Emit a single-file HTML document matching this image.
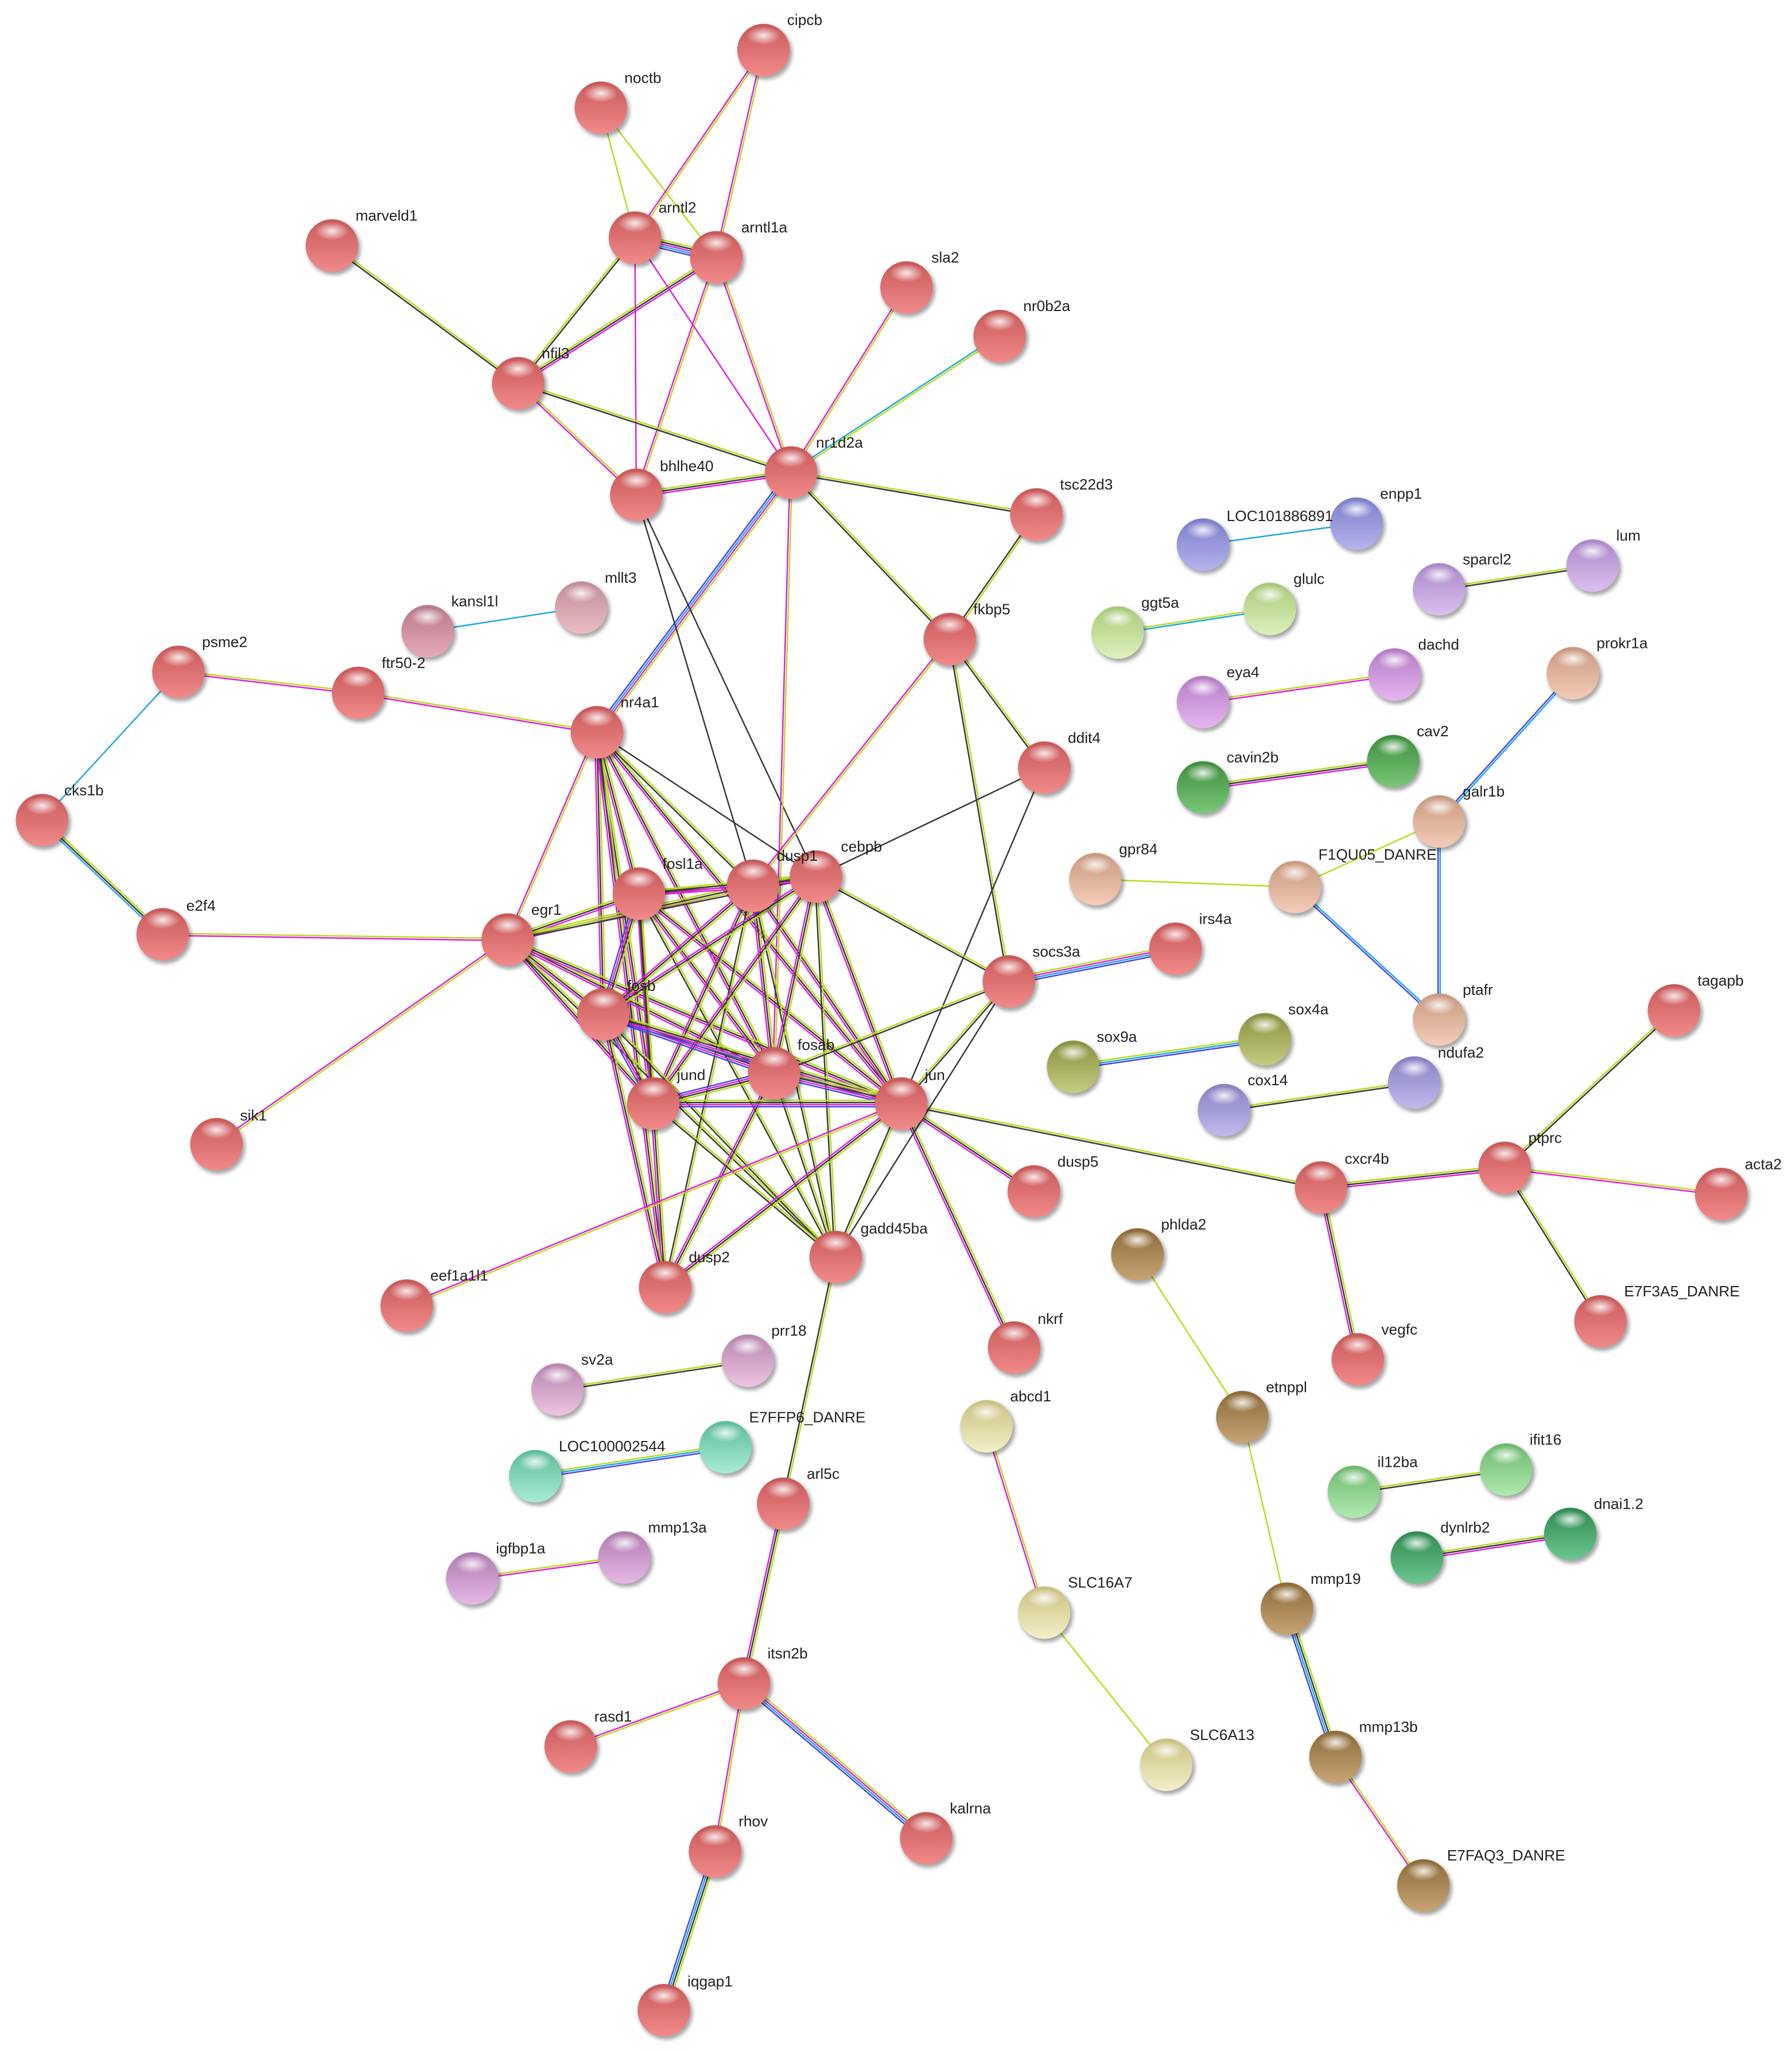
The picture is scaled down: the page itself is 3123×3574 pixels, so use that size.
<!DOCTYPE html>
<html><head><meta charset="utf-8"><style>
html,body{margin:0;padding:0;background:#fff}
svg{display:block}
text{font-family:"Liberation Sans",sans-serif;font-size:11.5px;fill:#222}
</style></head><body>
<svg id="s" width="3123" height="3574" viewBox="0 0 1366 1563" xmlns="http://www.w3.org/2000/svg">
<defs id="defs">
<radialGradient id="hl" cx="50%" cy="50%" r="50%"><stop offset="0" stop-color="#fff" stop-opacity="0.85"/><stop offset="1" stop-color="#fff" stop-opacity="0"/></radialGradient>
<filter id="sh" x="-30%" y="-30%" width="160%" height="160%"><feGaussianBlur stdDeviation="1.5"/></filter>
</defs>
<g id="edges"></g>
<g id="nodes"></g>
<g id="labels">
<text x="600" y="19">cipcb</text>
<text x="476" y="63">noctb</text>
<text x="502" y="162">arntl2</text>
<text x="565" y="177">arntl1a</text>
<text x="271" y="168">marveld1</text>
<text x="710" y="200">sla2</text>
<text x="780" y="237">nr0b2a</text>
<text x="413" y="273">nfil3</text>
<text x="622" y="341">nr1d2a</text>
<text x="503" y="359">bhlhe40</text>
<text x="808" y="373">tsc22d3</text>
<text x="742" y="468">fkbp5</text>
<text x="344" y="462">kansl1l</text>
<text x="461" y="444">mllt3</text>
<text x="154" y="493">psme2</text>
<text x="291" y="509">ftr50-2</text>
<text x="473" y="539">nr4a1</text>
<text x="814" y="566">ddit4</text>
<text x="49" y="606">cks1b</text>
<text x="592" y="656">dusp1</text>
<text x="641" y="649">cebpb</text>
<text x="505" y="662">fosl1a</text>
<text x="405" y="697">egr1</text>
<text x="142" y="694">e2f4</text>
<text x="787" y="729">socs3a</text>
<text x="914" y="704">irs4a</text>
<text x="478" y="755">fosb</text>
<text x="608" y="800">fosab</text>
<text x="516" y="823">jund</text>
<text x="705" y="823">jun</text>
<text x="183" y="854">sik1</text>
<text x="806" y="889">dusp5</text>
<text x="656" y="940">gadd45ba</text>
<text x="525" y="962">dusp2</text>
<text x="328" y="976">eef1a1l1</text>
<text x="791" y="1009">nkrf</text>
<text x="1025" y="887">cxcr4b</text>
<text x="1165" y="871">ptprc</text>
<text x="1330" y="891">acta2</text>
<text x="1294" y="751">tagapb</text>
<text x="1238" y="988">E7F3A5_DANRE</text>
<text x="1053" y="1017">vegfc</text>
<text x="615" y="1127">arl5c</text>
<text x="585" y="1264">itsn2b</text>
<text x="453" y="1312">rasd1</text>
<text x="724" y="1382">kalrna</text>
<text x="563" y="1392">rhov</text>
<text x="524" y="1514">iqgap1</text>
<text x="935" y="397">LOC101886891</text>
<text x="1052" y="380">enpp1</text>
<text x="1115" y="430">sparcl2</text>
<text x="1232" y="412">lum</text>
<text x="870" y="463">ggt5a</text>
<text x="986" y="445">glulc</text>
<text x="935" y="516">eya4</text>
<text x="1081" y="495">dachd</text>
<text x="1217" y="494">prokr1a</text>
<text x="935" y="581">cavin2b</text>
<text x="1080" y="561">cav2</text>
<text x="1115" y="607">galr1b</text>
<text x="853" y="651">gpr84</text>
<text x="1005" y="655">F1QU05_DANRE</text>
<text x="1115" y="758">ptafr</text>
<text x="836" y="794">sox9a</text>
<text x="982" y="773">sox4a</text>
<text x="951" y="827">cox14</text>
<text x="1096" y="806">ndufa2</text>
<text x="885" y="937">phlda2</text>
<text x="965" y="1061">etnppl</text>
<text x="999" y="1207">mmp19</text>
<text x="1036" y="1320">mmp13b</text>
<text x="1103" y="1418">E7FAQ3_DANRE</text>
<text x="1050" y="1118">il12ba</text>
<text x="1166" y="1101">ifit16</text>
<text x="1098" y="1168">dynlrb2</text>
<text x="1215" y="1150">dnai1.2</text>
<text x="770" y="1068">abcd1</text>
<text x="814" y="1210">SLC16A7</text>
<text x="907" y="1326">SLC6A13</text>
<text x="443" y="1040">sv2a</text>
<text x="588" y="1018">prr18</text>
<text x="426" y="1106">LOC100002544</text>
<text x="571" y="1084">E7FFP6_DANRE</text>
<text x="378" y="1184">igfbp1a</text>
<text x="494" y="1168">mmp13a</text>
</g>
</svg>
<script>
var N={cipcb:[582,38,'r'],noctb:[458,82,'r'],arntl2:[484,181,'r'],arntl1a:[546,196,'r'],marveld1:[253,187,'r'],sla2:[691,219,'r'],nr0b2a:[762,256,'r'],nfil3:[395,292,'r'],nr1d2a:[603,360,'r'],bhlhe40:[485,377,'r'],tsc22d3:[790,392,'r'],fkbp5:[724,487,'r'],kansl1l:[326,481,'mv'],mllt3:[443,463,'mv2'],psme2:[136,512,'r'],ftr502:[273,528,'r'],nr4a1:[455,558,'r'],ddit4:[796,585,'r'],cks1b:[32,625,'r'],dusp1:[574,675,'r'],cebpb:[622,668,'r'],fosl1a:[487,681,'r'],egr1:[387,716,'r'],e2f4:[124,712,'r'],socs3a:[769,748,'r'],irs4a:[896,723,'r'],fosb:[460,773,'r'],fosab:[590,818,'r'],jund:[498,841,'r'],jun:[687,841,'r'],sik1:[165,872,'r'],dusp5:[788,908,'r'],gadd45ba:[637,958,'r'],dusp2:[507,981,'r'],eef1a1l1:[310,995,'r'],nkrf:[773,1027,'r'],cxcr4b:[1007,905,'r'],ptprc:[1147,890,'r'],acta2:[1312,910,'r'],tagapb:[1276,770,'r'],E7F3A5:[1220,1007,'r'],vegfc:[1035,1036,'r'],arl5c:[597,1146,'r'],itsn2b:[567,1283,'r'],rasd1:[435,1331,'r'],kalrna:[706,1401,'r'],rhov:[545,1411,'r'],iqgap1:[506,1532,'r'],
LOC1:[917,415,'bl'],enpp1:[1034,399,'bl'],sparcl2:[1097,449,'lv'],lum:[1214,431,'lv'],ggt5a:[852,482,'lg'],glulc:[968,464,'lg'],eya4:[917,535,'or'],dachd:[1063,514,'or'],prokr1a:[1199,513,'pe'],cavin2b:[917,600,'gr'],cav2:[1062,580,'gr'],galr1b:[1097,626,'pe'],gpr84:[835,670,'pe'],F1QU05:[987,676,'pe'],ptafr:[1097,777,'pe'],sox9a:[818,813,'ol'],sox4a:[964,792,'ol'],cox14:[933,846,'pu'],ndufa2:[1078,825,'pu'],phlda2:[867,956,'br'],etnppl:[947,1080,'br'],mmp19:[981,1226,'br'],mmp13b:[1018,1339,'br'],E7FAQ3:[1085,1437,'br'],il12ba:[1032,1137,'lgn'],ifit16:[1148,1120,'lgn'],dynlrb2:[1080,1187,'dg'],dnai12:[1197,1169,'dg'],abcd1:[752,1087,'cr'],SLC16A7:[796,1229,'cr'],SLC6A13:[889,1345,'cr'],sv2a:[425,1059,'pk'],prr18:[570,1037,'pk'],LOC2:[408,1125,'tl'],E7FFP6:[553,1103,'tl'],igfbp1a:[360,1203,'vi'],mmp13a:[476,1187,'vi']};
var C={r:['#c85858','#f28a8a'],mv:['#b87888','#e6aab8'],mv2:['#c08c98','#ecbcc4'],bl:['#7c7cc8','#b4b4ee'],lv:['#a886c8','#dcc0f0'],lg:['#a8c878','#dcf2bc'],or:['#b47ac4','#e6b6f0'],pe:['#c8987e','#f4ccb8'],gr:['#3e8c3e','#78c878'],ol:['#88903e','#c4cc80'],pu:['#8680c0','#c0baee'],br:['#8c6a38','#c8a474'],lgn:['#6cb86c','#b0eab0'],dg:['#2e8850','#6cc890'],cr:['#c8c080','#f4f0c8'],pk:['#b884ac','#ecc4e0'],tl:['#5cbc98','#a8ecd4'],vi:['#b07ab0','#e6b8e6']};
var L={y:'#b8dc1c',k:'#3a3a3a',m:'#e020e0',c:'#20a8e0',b:'#4848e8'};
var E="noctb arntl2 y;noctb arntl1a y;cipcb arntl2 ym;cipcb arntl1a ym;arntl2 arntl1a ykmcb;marveld1 nfil3 yk;nfil3 arntl2 yk;nfil3 arntl1a ykm;arntl2 bhlhe40 m;arntl1a bhlhe40 ym;arntl2 nr1d2a m;arntl1a nr1d2a ym;nfil3 nr1d2a yk;nfil3 bhlhe40 ym;bhlhe40 nr1d2a ykm;sla2 nr1d2a ym;nr0b2a nr1d2a yc;nr1d2a tsc22d3 yk;nr1d2a fkbp5 yk;tsc22d3 fkbp5 yk;nr1d2a nr4a1 ymcb;bhlhe40 cebpb k;bhlhe40 dusp1 k;nr1d2a fosab ym;fkbp5 dusp1 ym;fkbp5 ddit4 yk;fkbp5 socs3a yk;ddit4 cebpb k;ddit4 jun k;kansl1l mllt3 c;psme2 ftr502 ym;ftr502 nr4a1 ym;psme2 cks1b c;cks1b e2f4 ykc;e2f4 egr1 ym;nr4a1 egr1 ym;nr4a1 fosl1a ykm;nr4a1 fosb ykm;nr4a1 fosab ykm;nr4a1 jund ykm;nr4a1 jun ykm;nr4a1 dusp1 yk;nr4a1 cebpb k;nr4a1 dusp2 ykm;egr1 fosl1a ykm;egr1 dusp1 ykm;egr1 cebpb yk;egr1 fosb ykm;egr1 fosab ykm;egr1 jun ykm;egr1 jund ykm;egr1 sik1 ym;egr1 gadd45ba yk;fosl1a dusp1 ykm;fosl1a cebpb ykm;fosl1a fosb ykmb;fosl1a fosab ykm;fosl1a jund yk;fosl1a jun ykm;fosl1a dusp2 ykm;fosl1a gadd45ba yk;dusp1 cebpb ykm;dusp1 fosb ykm;dusp1 fosab ykm;dusp1 jun ykm;dusp1 jund ykm;dusp1 gadd45ba yk;dusp1 dusp2 yk;cebpb fosab ykm;cebpb jun ykm;cebpb fosb ykm;cebpb socs3a yk;cebpb gadd45ba yk;cebpb jund ykm;fosb fosab ykmb;fosb jun ykmb;fosb jund ykmb;fosb dusp2 ykm;fosb gadd45ba yk;fosab jun ykmb;fosab jund ykmb;fosab dusp2 ykm;fosab gadd45ba yk;fosab socs3a yk;jund jun ykmb;jund gadd45ba yk;jun socs3a yk;jun dusp5 ykm;jun gadd45ba yk;jun dusp2 ykm;jun nkrf ykm;jun cxcr4b yk;jun eef1a1l1 ym;gadd45ba socs3a k;socs3a irs4a ymcb;gadd45ba arl5c yk;arl5c itsn2b ykm;itsn2b rasd1 ym;itsn2b kalrna ymcb;itsn2b rhov ym;rhov iqgap1 ykcb;cxcr4b ptprc ykm;cxcr4b vegfc ykm;ptprc acta2 ym;ptprc tagapb yk;ptprc E7F3A5 yk;LOC1 enpp1 c;sparcl2 lum yk;ggt5a glulc yc;eya4 dachd ym;cavin2b cav2 ykm;prokr1a galr1b cb;galr1b F1QU05 y;galr1b ptafr cb;F1QU05 ptafr cb;gpr84 F1QU05 y;sox9a sox4a ycb;cox14 ndufa2 yk;phlda2 etnppl y;etnppl mmp19 y;mmp19 mmp13b ykcb;mmp13b E7FAQ3 ym;il12ba ifit16 yk;dynlrb2 dnai12 ykm;abcd1 SLC16A7 ym;SLC16A7 SLC6A13 y;sv2a prr18 yk;LOC2 E7FFP6 ycb;igfbp1a mmp13a ym";
var ns='http://www.w3.org/2000/svg';
function el(t,a,p){var e=document.createElementNS(ns,t);for(var k in a)e.setAttribute(k,a[k]);p.appendChild(e);return e;}
var defs=document.getElementById('defs'),eg=document.getElementById('edges'),ng=document.getElementById('nodes');
for(var c in C){var g=el('linearGradient',{id:'g'+c,x1:0,y1:0,x2:0,y2:1},defs);el('stop',{offset:0,'stop-color':C[c][0]},g);el('stop',{offset:1,'stop-color':C[c][1]},g);}
E.split(';').forEach(function(s){var p=s.split(' '),a=N[p[0]],b=N[p[1]],cs=p[2];
var dx=b[0]-a[0],dy=b[1]-a[1],l=Math.sqrt(dx*dx+dy*dy),nx=-dy/l,ny=dx/l,n=cs.length,sp=1.6;
for(var i=0;i<n;i++){var o=(i-(n-1)/2)*sp;el('line',{x1:a[0]+nx*o,y1:a[1]+ny*o,x2:b[0]+nx*o,y2:b[1]+ny*o,stroke:L[cs[i]],'stroke-width':1.1},eg);}});
for(var k in N){var v=N[k];
el('circle',{cx:v[0]+1.5,cy:v[1]+2,r:20.5,fill:'#000',opacity:0.35,filter:'url(#sh)'},ng);
el('circle',{cx:v[0],cy:v[1],r:20,fill:'url(#g'+v[2]+')'},ng);
el('ellipse',{cx:v[0],cy:v[1]-11,rx:13,ry:7,fill:'url(#hl)'},ng);}
</script>
</body></html>
